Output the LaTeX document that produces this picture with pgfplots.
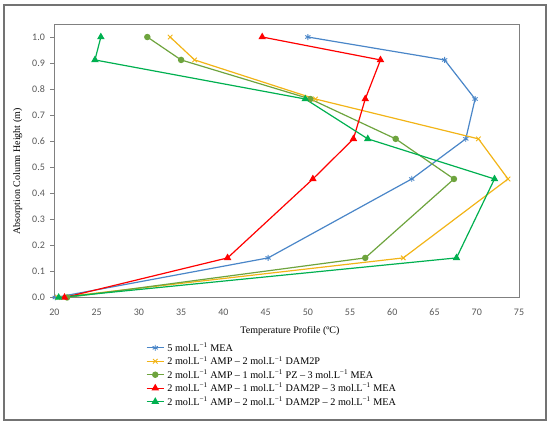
\documentclass[border=0pt]{standalone}
\usepackage{fontspec}
\setmainfont{Liberation Serif}
\newfontfamily\tickfont{Carlito}
\usepackage{pgfplots}
\pgfplotsset{compat=1.18}
\definecolor{cblue}{HTML}{4A86C8}
\definecolor{cyellow}{HTML}{F2B417}
\definecolor{colive}{HTML}{6EA43E}
\definecolor{cred}{HTML}{FF0000}
\definecolor{cgreen}{HTML}{00B050}
\definecolor{tickgray}{HTML}{595959}
\begin{document}
\begin{tikzpicture}[x=1pt,y=1pt]
\useasboundingbox (0,0) rectangle (550,425);
\draw[color=black!55, line width=1.3pt] (4,5) rectangle (546,420);
\begin{axis}[
  at={(54.4pt,127.5pt)}, anchor=south west,
  scale only axis, width=464.6pt, height=273.5pt,
  xmin=20, xmax=75, ymin=0, ymax=1.05,
  xtick={20,25,...,75},
  ytick={0,0.1,...,1.0},
  yticklabel style={/pgf/number format/fixed, /pgf/number format/fixed zerofill, /pgf/number format/precision=1, xshift=-2pt},
  ticklabel style={font=\tickfont\fontsize{10}{12}\selectfont, color=tickgray},
  /pgf/number format/assume math mode=true,
  axis line style={color=black!50, line width=0.8pt},
  xtick style={draw=none},
  ytick style={color=black!50, line width=0.6pt},
  ytick pos=left, xtick pos=bottom,
  tick align=outside, major tick length=4pt,
  xticklabel style={yshift=-4pt},
  clip=false,
  xlabel={Temperature Profile (ºC)},
  ylabel={Absorption Column Height (m)},
  label style={font=\fontsize{9.8}{11}\selectfont},
  every axis x label/.style={at={(axis description cs:0.507,-0.122)}, anchor=center},
  every axis y label/.style={at={(axis description cs:-0.079,0.46)}, anchor=center, rotate=90},
  legend style={at={(axis description cs:0.197,-0.158)}, anchor=north west, draw=none, fill=none,
    font=\fontsize{10.2}{11.5}\selectfont, inner sep=0pt, row sep=-0.4pt,
    /tikz/every odd column/.append style={column sep=1pt}},
  legend cell align=left,
  every axis plot/.append style={line width=1.2pt, mark size=2.6pt},
]
\addplot[color=cblue, mark=asterisk, mark options={line width=0.9pt, mark size=3pt}] coordinates {
 (20.1,0) (45.3,0.152) (62.3,0.455) (68.7,0.609) (69.8,0.762) (66.2,0.912) (50.0,1.0)};
\addlegendentry{5 mol.L\textsuperscript{−1} MEA}
\addplot[color=cyellow, mark=x, mark options={line width=0.9pt, mark size=3.2pt}] coordinates {
 (20.4,0) (61.3,0.152) (73.7,0.455) (70.2,0.609) (50.9,0.762) (36.6,0.912) (33.7,1.0)};
\addlegendentry{2 mol.L\textsuperscript{−1} AMP – 2 mol.L\textsuperscript{−1} DAM2P}
\addplot[color=colive, mark=*, mark options={fill=colive}] coordinates {
 (21.5,0) (56.8,0.152) (67.3,0.455) (60.4,0.609) (50.3,0.762) (35.0,0.912) (31.0,1.0)};
\addlegendentry{2 mol.L\textsuperscript{−1} AMP – 1 mol.L\textsuperscript{−1} PZ – 3 mol.L\textsuperscript{−1} MEA}
\addplot[color=cred, mark=triangle*, mark options={fill=cred, mark size=3.2pt}] coordinates {
 (21.2,0) (40.5,0.152) (50.6,0.455) (55.4,0.609) (56.8,0.762) (58.6,0.912) (44.6,1.0)};
\addlegendentry{2 mol.L\textsuperscript{−1} AMP – 1 mol.L\textsuperscript{−1} DAM2P – 3 mol.L\textsuperscript{−1} MEA}
\addplot[color=cgreen, mark=triangle*, mark options={fill=cgreen, mark size=3.2pt}] coordinates {
 (20.5,0) (67.6,0.152) (72.1,0.455) (57.1,0.609) (49.7,0.762) (24.8,0.912) (25.5,1.0)};
\addlegendentry{2 mol.L\textsuperscript{−1} AMP – 2 mol.L\textsuperscript{−1} DAM2P – 2 mol.L\textsuperscript{−1} MEA}
\end{axis}
\end{tikzpicture}
\end{document}
